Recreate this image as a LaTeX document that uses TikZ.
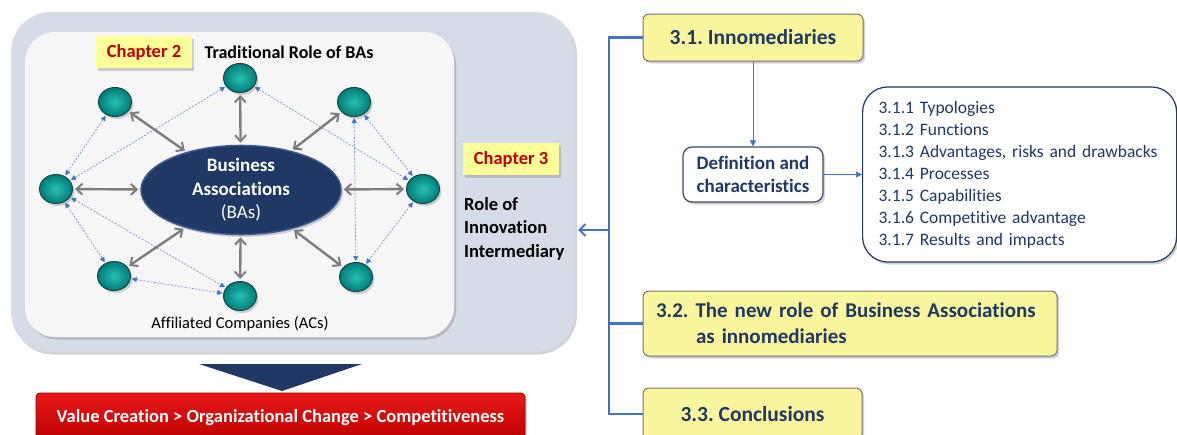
\documentclass[tikz,border=0pt]{standalone}
\usepackage{fontspec}
\setmainfont{Carlito}[Ligatures=NoCommon]
\usetikzlibrary{arrows.meta,shadows,shapes.geometric,calc}
\definecolor{navy}{RGB}{31,56,100}
\definecolor{hubedge}{RGB}{60,88,140}
\definecolor{chapred}{RGB}{192,0,0}
\definecolor{chapyel}{RGB}{255,255,153}
\definecolor{secyel}{RGB}{250,246,158}
\definecolor{panelgray}{RGB}{214,220,229}
\definecolor{innerwhite}{RGB}{246,246,246}
\definecolor{linkblue}{RGB}{68,114,196}
\definecolor{dotblue}{RGB}{120,150,205}
\definecolor{tealin}{RGB}{40,190,180}
\definecolor{tealout}{RGB}{0,125,120}
\definecolor{tealedge}{RGB}{20,70,72}
\definecolor{arrgray}{RGB}{125,125,125}
\definecolor{listnavy}{RGB}{31,56,100}
\definecolor{defedge}{RGB}{60,75,100}
\tikzset{
  softshadow/.style={drop shadow={opacity=0.35,shadow xshift=2pt,shadow yshift=-2.5pt}},
  panel/.style={rectangle,rounded corners=40pt,fill=panelgray,inner sep=0pt,softshadow},
  innerpanel/.style={rectangle,rounded corners=30pt,fill=innerwhite,inner sep=0pt,softshadow},
  chap/.style={rectangle,fill=chapyel,text=chapred,font=\bfseries\fontsize{18.5}{20}\selectfont,
    minimum width=96pt,minimum height=32pt,inner sep=0pt,softshadow},
  ac/.style={ellipse,minimum width=33pt,minimum height=29pt,inner sep=0pt,draw=tealedge,line width=1pt,
    inner color=tealin,outer color=tealout,softshadow},
  hub/.style={ellipse,minimum width=200pt,minimum height=86pt,inner sep=0pt,fill=navy,
    draw=hubedge,line width=1.5pt,text=white,align=center,
    font=\fontsize{19}{23.5}\selectfont,softshadow},
  gar/.style={draw=arrgray,line width=2.4pt,
    {Straight Barb[length=6pt,width=11pt,line width=2pt]}-{Straight Barb[length=6pt,width=11pt,line width=2pt]},
    shorten <=2pt,shorten >=2pt},
  dar/.style={draw=dotblue,line width=0.7pt,dash pattern=on 2pt off 1.5pt,
    {Triangle[length=5pt,width=5pt,color=linkblue]}-{Triangle[length=5pt,width=5pt,color=linkblue]},
    shorten <=1pt,shorten >=1pt},
  sec/.style={rectangle,rounded corners=6pt,fill=secyel,draw=black!55,line width=1pt,
    text=navy,font=\bfseries\fontsize{21.5}{26}\selectfont,inner sep=0pt,softshadow},
  bus/.style={draw=linkblue,line width=2.5pt},
  thinarr/.style={draw=linkblue,line width=0.6pt,-{Triangle[length=6pt,width=6pt]}},
  txt/.style={inner sep=0pt,font=\bfseries\fontsize{18.5}{23.5}\selectfont},
}
\begin{document}
\frenchspacing
\begin{tikzpicture}[x=1pt,y=-1pt]
\useasboundingbox (0,0) rectangle (1177,434);
\clip (0,0) rectangle (1177,434);

% ---------- left: chapter 2 / chapter 3 panel ----------
\node[panel,minimum width=564pt,minimum height=340pt] (outer) at (293,182) {};
\node[innerpanel,minimum width=429pt,minimum height=305pt] (inner) at (239.5,184.5) {};

\node[chap] (ch2) at (144,52) {Chapter 2};
\node[txt,font=\bfseries\fontsize{18}{20}\selectfont] (trad) at (289,52) {Traditional Role of BAs};

\node[chap] (ch3) at (511,159) {Chapter 3};
\node[txt,anchor=north west,align=left] (role) at (464,197) {Role of\\Innovation\\Intermediary};

% affiliated companies around the association
\node[ac] (T)  at (240,78)  {};
\node[ac] (TL) at (115,102) {};
\node[ac] (TR) at (354,102) {};
\node[ac] (L)  at (56,189)  {};
\node[ac] (R)  at (423,189) {};
\node[ac] (BL) at (114,276) {};
\node[ac] (BR) at (356,277) {};
\node[ac] (B)  at (240,296) {};

\node[hub] (ba) at (241,190) {\textbf{Business}\\\textbf{Associations}\\(BAs)};

% links between affiliated companies
\draw[dar] (L) -- (TL);
\draw[dar] (L) -- (T);
\draw[dar] (T) -- (R);
\draw[dar] (TR) -- (R);
\draw[dar] (TR) -- (BR);
\draw[dar] (R) -- (BR);
\draw[dar] (L) -- (BL);
\draw[dar] (L) -- (B);
\draw[dar] (BL) -- (B);

% links between the association and its members
\foreach \n in {T,TL,TR,L,R,BL,BR,B}{
  \draw[gar] (ba) -- (\n);
}

\node[inner sep=0pt,font=\fontsize{16.5}{18}\selectfont] (acs) at (240,324) {Affiliated Companies (ACs)};

% result bar
\fill[navy] (199,364) -- (362,364) -- (282,391) -- cycle;
\node[rectangle,rounded corners=4pt,top color={rgb,255:red,232;green,24;blue,24},
  bottom color={rgb,255:red,185;green,0;blue,0},draw={rgb,255:red,130;green,0;blue,0},
  line width=0.8pt,minimum width=489pt,minimum height=50pt,inner sep=0pt,softshadow,
  text=white,font=\bfseries\fontsize{18.5}{20}\selectfont] (vc) at (280.5,418)
  {\raisebox{1pt}{Value Creation > Organizational Change > Competitiveness}};

% ---------- right: chapter 3 structure ----------
\node[sec,minimum width=220pt,minimum height=47pt] (s31) at (753,37.5) {3.1. Innomediaries};
\node[rectangle,rounded corners=9pt,fill=white,draw=defedge,line width=1.2pt,
  minimum width=140pt,minimum height=55pt,inner sep=0pt,align=left,text=navy,
  font=\bfseries\fontsize{19}{23}\selectfont,softshadow] (def) at (753,174.5)
  {Definition and\\characteristics};
\node[rectangle,rounded corners=25pt,fill=white,draw=navy,line width=1.2pt,
  anchor=west,minimum height=175pt,text width=282pt,inner xsep=16pt,inner ysep=0pt,
  align=left,text=listnavy,font=\fontsize{17.5}{22}\selectfont,softshadow] (list) at (862,174.5)
  {3.1.1 Typologies\\3.1.2 Functions\\3.1.3 Advantages, risks and drawbacks\\
   3.1.4 Processes\\3.1.5 Capabilities\\3.1.6 Competitive advantage\\3.1.7 Results and impacts};
\node[sec,minimum width=414pt,minimum height=65pt,text width=388pt,align=left,
  inner xsep=13pt,font=\bfseries\fontsize{21}{26}\selectfont] (s32) at (850,323.5)
  {3.2. The new role of Business Associations\\\hspace*{40pt}as innomediaries};
\node[sec,minimum width=219pt,minimum height=52pt] (s33) at (752.5,414) {3.3. Conclusions};

\draw[thinarr] (s31.south) -- (def.north);
\draw[thinarr] (def) -- (list);

% bus joining the sections to the chapter 3 panel
\coordinate (bt) at (609,37.5);
\coordinate (bb) at (609,414);
\coordinate (rolein) at (578,230);
\draw[bus,line join=miter] (s31.west) -- (bt) -- (bb) -- (s33.west);
\draw[bus] (s32.west) -- (s32.west -| bt);
\draw[bus,-{Straight Barb[length=6pt,width=12pt,line width=2pt]}] (bt |- rolein) -- (rolein);
\end{tikzpicture}
\end{document}
